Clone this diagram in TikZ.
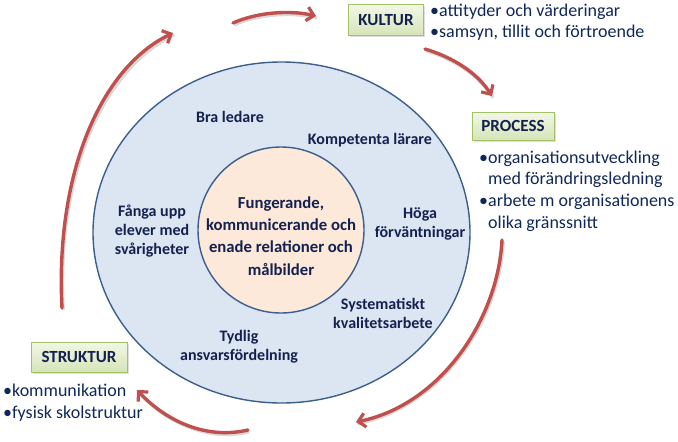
\documentclass[tikz,border=0pt]{standalone}
\usepackage{fontspec}
\setmainfont{Carlito}
\usetikzlibrary{arrows.meta,shadows,shapes.geometric}
\definecolor{arrowred}{HTML}{C0504D}
\definecolor{ringfill}{HTML}{DCE6F2}
\definecolor{ringline}{HTML}{3B5E8C}
\definecolor{corefill}{HTML}{FDE9DA}
\definecolor{navy}{HTML}{14214F}
\definecolor{bulletblue}{HTML}{10275A}
\definecolor{boxtop}{HTML}{F2F7E6}
\definecolor{boxbot}{HTML}{D6E4B8}
\definecolor{boxline}{HTML}{A3C167}
\tikzset{
  cyclearrow/.style={draw=arrowred, line width=3.4pt, line cap=round,
    -{Straight Barb[length=7pt,width=14pt,line width=3.2pt]},
    preaction={draw=black!15, line width=3.4pt, transform canvas={xshift=1.2pt,yshift=-1.8pt}, -{}}},
  stagebox/.style={draw=boxline, line width=0.8pt, top color=boxtop, bottom color=boxbot,
    font=\fontsize{17}{19}\selectfont\bfseries, text=navy, inner sep=0pt,
    drop shadow={shadow xshift=1.5pt, shadow yshift=-1.5pt, opacity=0.25}},
  ringlabel/.style={font=\fontsize{16}{19}\selectfont\bfseries, text=navy, align=center, inner sep=0pt},
  bulletline/.style={font=\fontsize{18}{21}\selectfont, text=bulletblue, inner sep=0pt, anchor=base west}
}
\begin{document}
\begin{tikzpicture}[x=1pt,y=-1pt]
\useasboundingbox (0,0) rectangle (678,442);
% rings
\node[draw=ringline, line width=1.4pt, fill=ringfill, ellipse, minimum width=377pt, minimum height=341pt, inner sep=0pt] (ring) at (281.5,232.5) {};
\node[draw=ringline, line width=1.4pt, fill=corefill, circle, minimum size=166pt, inner sep=0pt] (core) at (281,230) {};
\node[font=\fontsize{16.7}{22.3}\selectfont\bfseries, text=navy, align=center, inner sep=0pt] (coretext) at (281,236)
  {Fungerande,\\kommunicerande och\\enade relationer och\\målbilder};
% ring labels
\node[ringlabel] (lead) at (230,117) {Bra ledare};
\node[ringlabel] (teach) at (370,140) {Kompetenta lärare};
\node[ringlabel] (catch) at (152,231) {Fånga upp\\elever med\\svårigheter};
\node[ringlabel] (expect) at (420,224) {Höga\\förväntningar};
\node[ringlabel] (quality) at (383,313) {Systematiskt\\kvalitetsarbete};
\node[ringlabel] (resp) at (239,347) {Tydlig\\ansvarsfördelning};
% stage boxes
\node[stagebox, minimum width=75pt, minimum height=31pt] (kultur) at (386,20) {KULTUR};
\node[stagebox, minimum width=82pt, minimum height=28pt] (process) at (513,126) {PROCESS};
\node[stagebox, minimum width=96pt, minimum height=30pt] (struktur) at (79,357) {STRUKTUR};
% bullet texts
\node[bulletline] (k1) at (430,16) {•attityder och värderingar};
\node[bulletline] (k2) at (430,37) {•samsyn, tillit och förtroende};
\node[bulletline] (p1) at (479,163) {•organisationsutveckling};
\node[bulletline] (p2) at (488,184) {med förändringsledning};
\node[bulletline] (p3) at (479,206) {•arbete m organisationens};
\node[bulletline] (p4) at (488,228) {olika gränssnitt};
\node[bulletline] (s1) at (3,396) {•kommunikation};
\node[bulletline] (s2) at (3,418) {•fysisk skolstruktur};
% cycle arrows
\coordinate (a1s) at (233,23); \coordinate (a1e) at (316,16);
\coordinate (a2s) at (425,49); \coordinate (a2e) at (492,96);
\coordinate (a3s) at (502,240); \coordinate (a3e) at (356,422);
\coordinate (a4s) at (248,430); \coordinate (a4e) at (137,390);
\coordinate (a5s) at (62,308); \coordinate (a5e) at (173,33);
\draw[cyclearrow] (a1s) .. controls (258,12) and (290,10) .. (a1e);
\draw[cyclearrow] (a2s) .. controls (455,58) and (478,74) .. (a2e);
\draw[cyclearrow] (a3s) .. controls (498,320) and (440,405) .. (a3e);
\draw[cyclearrow] (a4s) .. controls (205,440) and (165,420) .. (a4e);
\draw[cyclearrow] (a5s) .. controls (55,175) and (100,68) .. (a5e);
\end{tikzpicture}
\end{document}
